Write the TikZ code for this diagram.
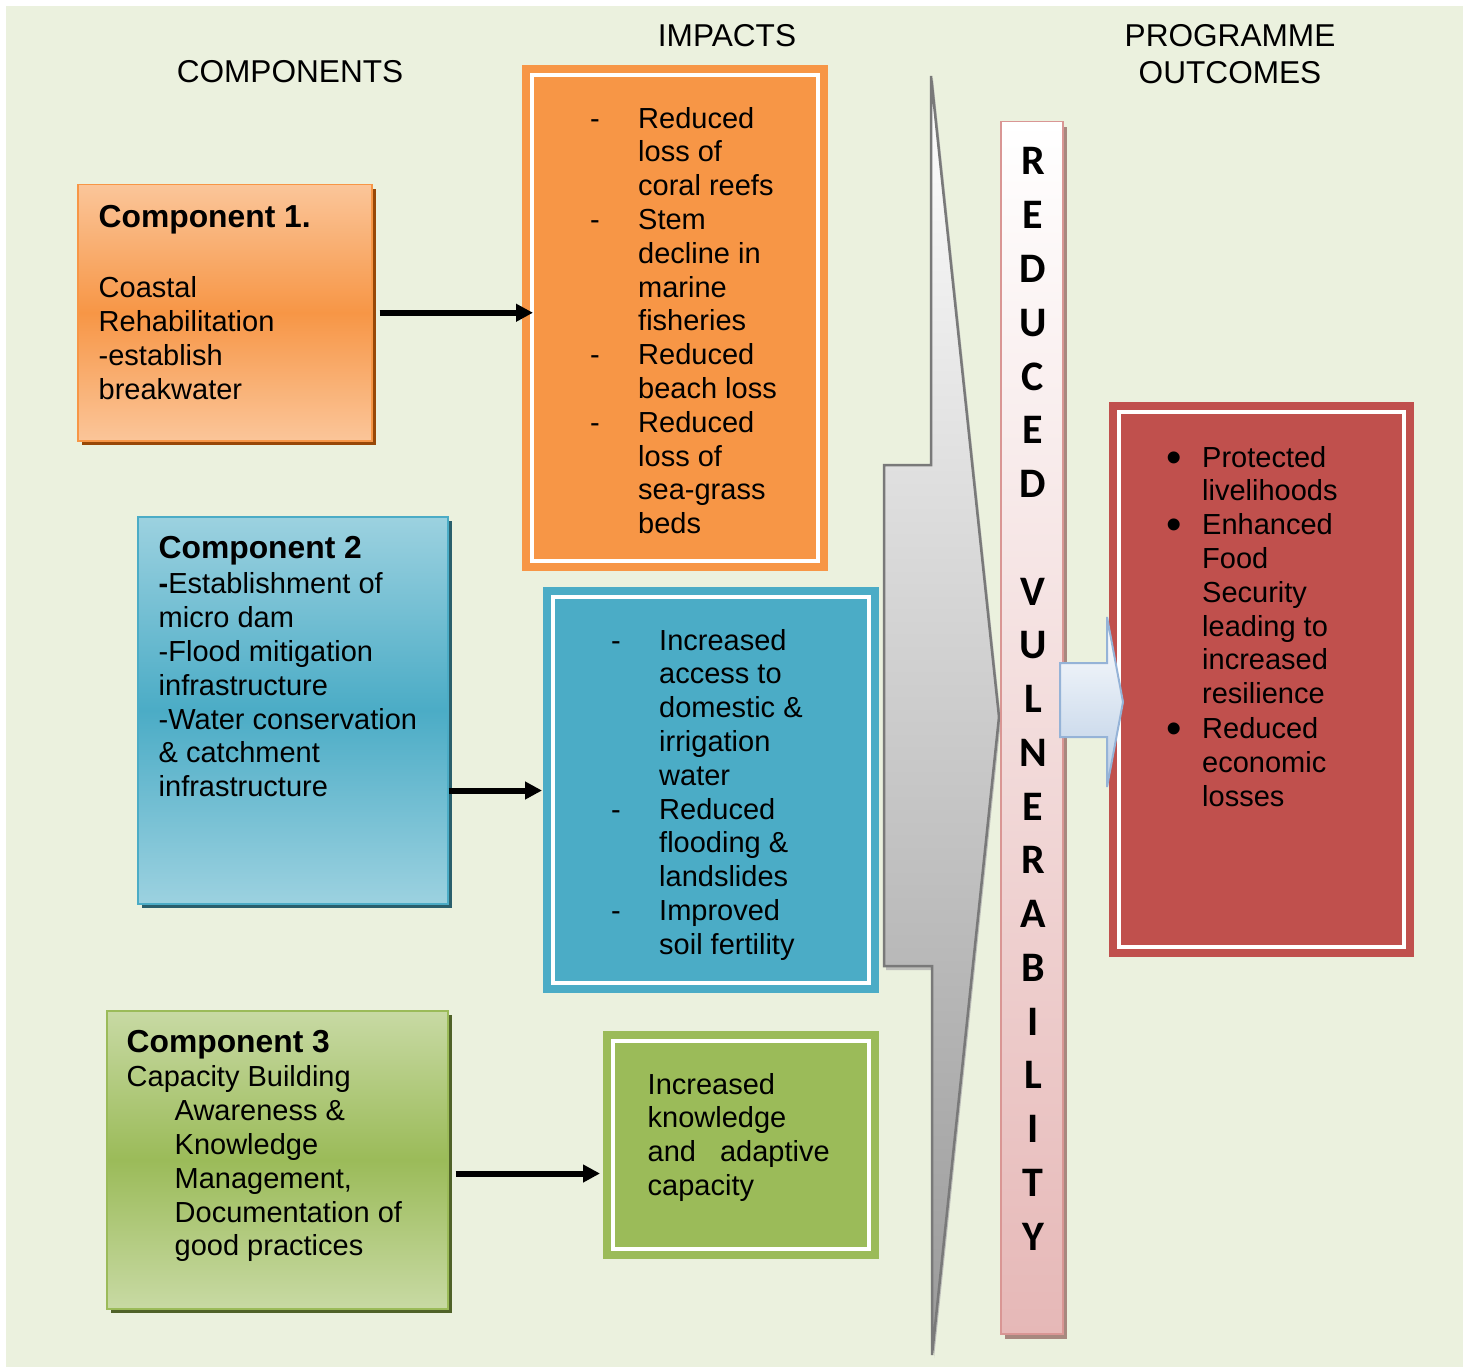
\documentclass[tikz,border=0pt]{standalone}
\usepackage{fontspec}
\setmainfont{Liberation Sans}
\newfontfamily\barfont{Carlito}
\usetikzlibrary{calc,shadows,arrows.meta}

\definecolor{bgcol}{HTML}{EBF1DE}
\definecolor{orcol}{HTML}{F79646}
\definecolor{orshd}{HTML}{984807}
\definecolor{blcol}{HTML}{4BACC6}
\definecolor{blshd}{HTML}{2A5F6C}
\definecolor{grcol}{HTML}{9BBB59}
\definecolor{grshd}{HTML}{4F6228}
\definecolor{rdcol}{HTML}{C0504D}
\definecolor{pkcol}{HTML}{E6B8B7}
\definecolor{pkline}{HTML}{D99694}
\definecolor{pkshd}{HTML}{A8887F}
\definecolor{arcol}{HTML}{B9CDE5}
\definecolor{arline}{HTML}{95B3D7}

\newcommand\comptitle[1]{{\bfseries\fontsize{31.8}{33.8}\selectfont #1}}
\newcommand\impdash[1]{\makebox[48pt][l]{-}#1}
\newcommand\impcont[1]{\hspace*{48pt}#1}
\newcommand\outbul[1]{\makebox[36pt][l]{\raisebox{-5pt}{\fontsize{44}{44}\selectfont •}}#1}
\newcommand\outcont[1]{\hspace*{36pt}#1}

\begin{document}
\begin{tikzpicture}[x=1pt,y=-1pt,
    box/.style={rectangle,anchor=north west,inner sep=0pt,line width=1.5pt},
    comp/.style 2 args={box,top color=#1!55,bottom color=#1!55,middle color=#1,draw=#1,
      drop shadow={shadow xshift=4pt,shadow yshift=-4pt,fill=#2,opacity=1}},
    impact/.style={box,fill=#1},
    inframe/.style={draw=white,line width=4pt},
    txt/.style={anchor=north west,inner sep=0pt,align=left,font=\fontsize{29}{33.8}\selectfont},
    head/.style={inner sep=0pt,align=center,font=\fontsize{31.6}{36.5}\selectfont},
    barletter/.style={anchor=base,inner sep=0pt,font=\barfont\bfseries\fontsize{42}{42}\selectfont},
    flow/.style={line width=6pt,-{Triangle[length=17pt,width=17pt]}}]
  \useasboundingbox (0,0) rectangle (1463,1367);
  \fill[bgcol] (6,6) rectangle (1463,1367);

  % column titles
  \node[head,anchor=base] (hcomp) at (290,83) {COMPONENTS};
  \node[head,anchor=base] (himp) at (727,46.5) {IMPACTS};
  \node[head,anchor=north] (hout) at (1230,21.1) {\strut PROGRAMME\\ OUTCOMES};

  % components
  \node[comp={orcol}{orshd},minimum width=294pt,minimum height=256pt] (c1) at (77,184) {};
  \node[comp={blcol}{blshd},minimum width=310pt,minimum height=387pt] (c2) at (137,516) {};
  \node[comp={grcol}{grshd},minimum width=341pt,minimum height=298pt] (c3) at (106,1010) {};
  \node[txt] (c1t) at ([shift={(21.5,19.3)}]c1.north west)
    {\strut\comptitle{Component 1.}\\[37pt] Coastal\\ Rehabilitation\\ -establish\\ breakwater};
  \node[txt] (c2t) at ([shift={(21.5,18.3)}]c2.north west)
    {\strut\comptitle{Component 2}\\[2pt] \textbf{-}Establishment of\\ micro dam\\ -Flood mitigation\\
     infrastructure\\ -Water conservation\\ \& catchment\\ infrastructure};
  \node[txt] (c3t) at ([shift={(20.5,18.3)}]c3.north west)
    {\strut\comptitle{Component 3}\\[1pt] Capacity Building\\ \hspace*{48pt}Awareness \&\\
     \hspace*{48pt}Knowledge\\ \hspace*{48pt}Management,\\ \hspace*{48pt}Documentation of\\
     \hspace*{48pt}good practices};

  % impacts
  \node[impact=orcol,minimum width=306pt,minimum height=506pt] (i1) at (521,64) {};
  \node[impact=blcol,minimum width=336pt,minimum height=406pt] (i2) at (542,586) {};
  \node[impact=grcol,minimum width=276pt,minimum height=228pt] (i3) at (602,1030) {};
  \node[impact=rdcol,minimum width=305pt,minimum height=555pt] (o1) at (1108,401) {};
  \foreach \b in {i1,i2,i3,o1}
    \draw[inframe] ([shift={(11,11)}]\b.north west) rectangle ([shift={(-11,-11)}]\b.south east);
  \node[txt] (i1t) at ([shift={(69,40.3)}]i1.north west)
    {\strut\impdash{Reduced}\\ \impcont{loss of}\\ \impcont{coral reefs}\\ \impdash{Stem}\\
     \impcont{decline in}\\ \impcont{marine}\\ \impcont{fisheries}\\ \impdash{Reduced}\\
     \impcont{beach loss}\\ \impdash{Reduced}\\ \impcont{loss of}\\ \impcont{sea-grass}\\ \impcont{beds}};
  \node[txt] (i2t) at ([shift={(69,40.3)}]i2.north west)
    {\strut\impdash{Increased}\\ \impcont{access to}\\ \impcont{domestic \&}\\ \impcont{irrigation}\\
     \impcont{water}\\ \impdash{Reduced}\\ \impcont{flooding \&}\\ \impcont{landslides}\\
     \impdash{Improved}\\ \impcont{soil fertility}};
  \node[txt] (i3t) at ([shift={(45.5,40.3)}]i3.north west)
    {\strut Increased\\ knowledge\\ and\hspace{24pt}adaptive\\ capacity};
  \node[txt] (o1t) at ([shift={(58,42.3)}]o1.north west)
    {\strut\outbul{Protected}\\ \outcont{livelihoods}\\ \outbul{Enhanced}\\ \outcont{Food}\\
     \outcont{Security}\\ \outcont{leading to}\\ \outcont{increased}\\ \outcont{resilience}\\[1pt]
     \outbul{Reduced}\\ \outcont{economic}\\ \outcont{losses}};

  % grey block arrow
  \fill[gray!60,opacity=.8] (933,79) -- (1001,720) -- (934,1358) -- (934,970) -- (886,970)
    -- (886,468) -- (933,468) -- cycle;
  \draw[draw=gray!95!black,line width=2.5pt,top color=white,bottom color=black!40]
    (931,76) -- (999,717) -- (932,1355) -- (932,966) -- (884,966) -- (884,465) -- (931,465) -- cycle;

  % reduced vulnerability bar
  \node[box,draw=pkline,top color=white,bottom color=pkcol,minimum width=62pt,minimum height=1212pt,
    drop shadow={shadow xshift=4pt,shadow yshift=-5pt,fill=pkshd,opacity=1}] (bar) at (1000,121) {};
  \foreach \ch [count=\i from 0] in {R,E,D,U,C,E,D}
    \node[barletter] (r\i) at (1033,175+\i*53.75) {\ch};
  \foreach \ch [count=\i from 8] in {V,U,L,N,E,R,A,B,I,L,I,T,Y}
    \node[barletter] (v\i) at (1033,175+\i*53.75) {\ch};

  % arrows
  \draw[flow] ([xshift=7pt]c1.east) -- ($(c1.east -| i1.west)+(12,0)$);
  \coordinate (a2) at ($(c2.south east)+(0,-114)$);
  \draw[flow] (a2) -- (a2 -| i2.west);
  \coordinate (a3) at ($(c3.south east)+(7,-136)$);
  \draw[flow] (a3) -- ($(a3 -| i3.west)+(-2,0)$);

  % small arrow into outcomes
  \draw[draw=arline,line width=2pt,top color=white,bottom color=arcol]
    (1060,663) -- (1107,663) -- (1107,617) -- (1123,702) -- (1107,787) -- (1107,737) -- (1060,737) -- cycle;
\end{tikzpicture}
\end{document}
